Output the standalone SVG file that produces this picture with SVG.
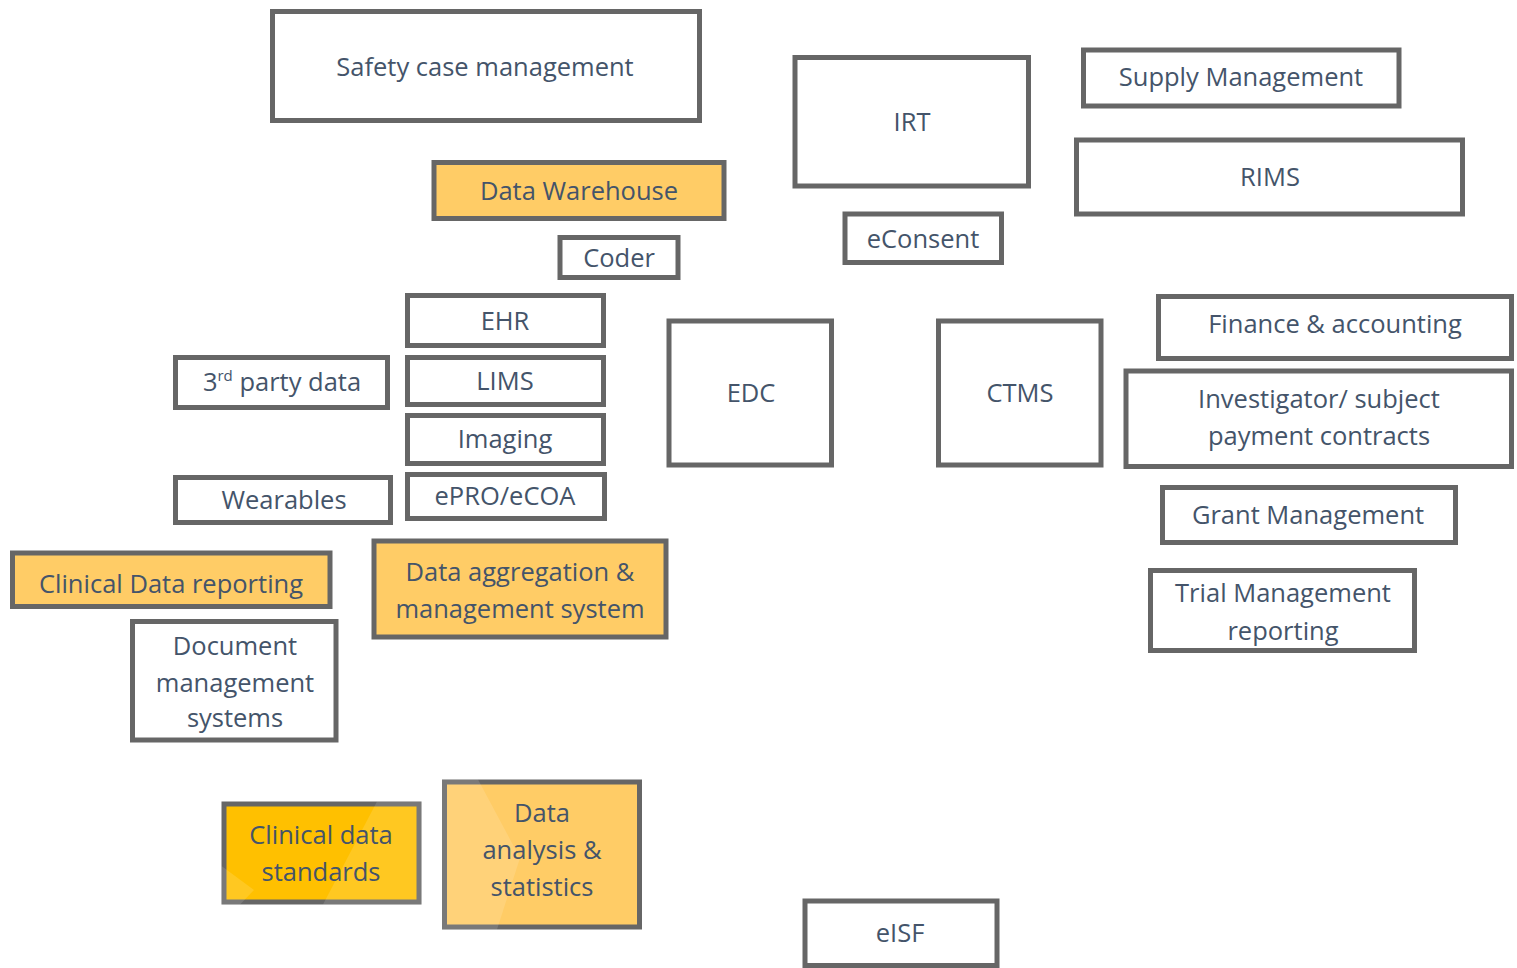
<svg xmlns="http://www.w3.org/2000/svg" width="1517" height="968" viewBox="0 0 1517 968">
<style>
.b{fill:#ffffff;stroke:#666666;stroke-width:5}
.o{fill:#ffcc66;stroke:#666666;stroke-width:5}
.y{fill:#ffc000;stroke:#666666;stroke-width:5}
.g{fill:#ffffff;opacity:0.13}
text{font-family:"Open Sans","Liberation Sans",sans-serif;font-size:25.5px;fill:#44546a;text-anchor:middle}
</style>
<rect width="1517" height="968" fill="#ffffff"/>
<g id="connectors"/>
<g id="safety"><rect class="b" x="272.5" y="11.5" width="427" height="109"/><text x="485" y="76">Safety case management</text></g>
<g id="dwh"><rect class="o" x="434" y="162.5" width="290" height="56"/><text x="579" y="200">Data Warehouse</text></g>
<g id="coder"><rect class="b" x="560" y="237.5" width="118" height="40"/><text x="619" y="267">Coder</text></g>
<g id="irt"><rect class="b" x="795" y="57.5" width="233.5" height="128.5"/><text x="912" y="131">IRT</text></g>
<g id="econsent"><rect class="b" x="845" y="214" width="156.5" height="48.5"/><text x="923" y="248">eConsent</text></g>
<g id="supply"><rect class="b" x="1083.5" y="50" width="315.5" height="56"/><text x="1241" y="86">Supply Management</text></g>
<g id="rims"><rect class="b" x="1076.5" y="140" width="386" height="74"/><text x="1270" y="186">RIMS</text></g>
<g id="ehr"><rect class="b" x="407.5" y="295.5" width="196" height="50"/><text x="505" y="330">EHR</text></g>
<g id="lims"><rect class="b" x="407.5" y="357.5" width="196" height="47"/><text x="505" y="390">LIMS</text></g>
<g id="imaging"><rect class="b" x="407.5" y="415.5" width="196" height="48"/><text x="505" y="448">Imaging</text></g>
<g id="epro"><rect class="b" x="407.5" y="474.5" width="197" height="44"/><text x="505" y="505">ePRO/eCOA</text></g>
<g id="thirdparty"><rect class="b" x="175.5" y="357.5" width="212" height="50"/><text x="282" y="391">3<tspan font-size="15" dy="-10">rd</tspan><tspan dy="10"> party data</tspan></text></g>
<g id="wearables"><rect class="b" x="175.5" y="477.5" width="215" height="45"/><text x="284" y="509">Wearables</text></g>
<g id="edc"><rect class="b" x="669" y="321" width="162.5" height="144"/><text x="751" y="402">EDC</text></g>
<g id="ctms"><rect class="b" x="938.5" y="321" width="162.5" height="144"/><text x="1020" y="402">CTMS</text></g>
<g id="finance"><rect class="b" x="1158.5" y="296.5" width="353" height="62"/><text x="1335" y="333">Finance &amp; accounting</text></g>
<g id="investigator"><rect class="b" x="1126" y="371" width="385.5" height="95.5"/><text x="1319" y="408">Investigator/ subject</text><text x="1319" y="445">payment contracts</text></g>
<g id="grant"><rect class="b" x="1162.5" y="487.5" width="293" height="55"/><text x="1308" y="524">Grant Management</text></g>
<g id="trialrep"><rect class="b" x="1150.5" y="570.5" width="264" height="80"/><text x="1283" y="602">Trial Management</text><text x="1283" y="640">reporting</text></g>
<g id="cdr"><rect class="o" x="12.5" y="553" width="317.5" height="53.5"/><text x="171" y="593">Clinical Data reporting</text></g>
<g id="docmgmt"><rect class="b" x="132.5" y="621.5" width="203.5" height="118.5"/><text x="235" y="655">Document</text><text x="235" y="692">management</text><text x="235" y="727">systems</text></g>
<g id="dataagg"><rect class="o" x="374" y="541" width="292" height="96"/><text x="520" y="581">Data aggregation &amp;</text><text x="520" y="618">management system</text></g>
<g id="standards"><rect class="y" x="224" y="804" width="195" height="98"/><polygon class="g" points="377,801.5 421.5,801.5 421.5,904.5 323,904.5"/><polygon class="g" points="221.5,866 254,890 240,904.5 221.5,904.5"/><text x="321" y="844">Clinical data</text><text x="321" y="881">standards</text></g>
<g id="analysis"><rect class="o" x="444.5" y="782" width="195" height="145"/><polygon class="g" points="442,779.5 478,779.5 520,858 497,929.5 442,929.5"/><text x="542" y="822">Data</text><text x="542" y="859">analysis &amp;</text><text x="542" y="896">statistics</text></g>
<g id="eisf"><rect class="b" x="805" y="901" width="192" height="64.5"/><text x="900" y="942">eISF</text></g>
</svg>
